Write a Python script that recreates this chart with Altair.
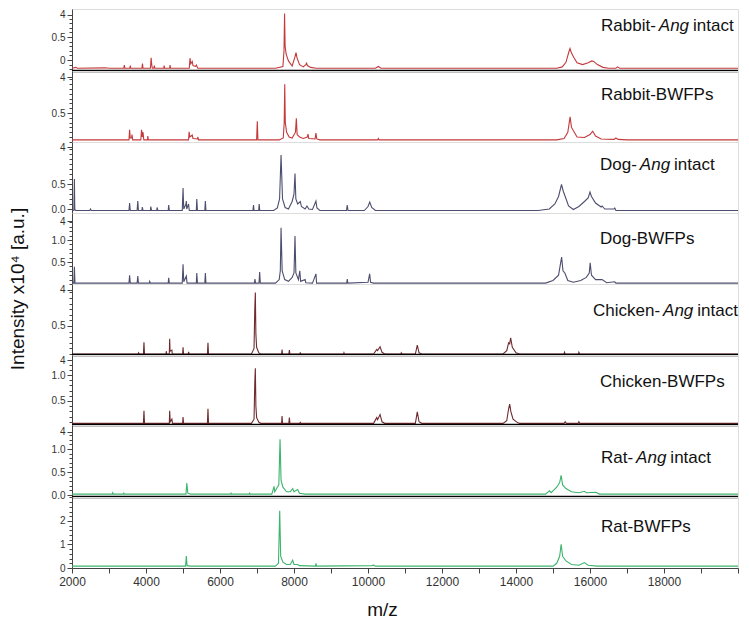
import altair as alt
import pandas as pd

# ---------------- data: (m/z, intensity x10^4) ----------------
rabbit_ang = [(2000,-0.18),(2100,-0.16),(2150,-0.18),(2900,-0.17),(3000,-0.18),(3400,-0.18),(3414,-0.11),(3430,-0.18),
    (3560,-0.18),(3576,-0.12),(3590,-0.18),(3890,-0.18),(3905,-0.08),(3920,-0.18),(4120,-0.18),(4139,0.05),(4155,-0.10),
    (4170,-0.18),(4210,-0.18),(4225,-0.12),(4240,-0.18),(4480,-0.18),(4490,-0.12),(4505,-0.18),(4640,-0.18),(4650,-0.11),
    (4665,-0.18),(5170,-0.18),(5190,0.04),(5210,-0.08),(5250,-0.03),(5270,-0.12),(5340,-0.14),(5360,-0.11),(5400,-0.18),
    (7500,-0.18),(7700,-0.14),(7730,0.20),(7745,1.01),(7760,0.30),(7790,0.12),(7850,-0.02),(7950,-0.13),(8030,0.08),
    (8055,0.16),(8080,0.05),(8150,-0.10),(8250,-0.15),(8320,-0.10),(8340,-0.07),(8360,-0.12),(8450,-0.16),(8600,-0.18),
    (10200,-0.18),(10280,-0.14),(10350,-0.18),(15100,-0.18),(15250,-0.15),(15350,-0.05),(15430,0.18),(15460,0.25),
    (15500,0.15),(15560,0.06),(15650,-0.06),(15800,-0.10),(15950,-0.06),(16050,-0.02),(16100,-0.03),(16200,-0.10),
    (16350,-0.16),(16500,-0.18),(16700,-0.18),(16745,-0.15),(16800,-0.18),(20000,-0.18)]

rabbit_bwfp = [(2000,-0.06),(3540,-0.06),(3557,0.15),(3575,-0.02),(3610,-0.02),(3622,0.05),(3640,-0.06),(3860,-0.06),
    (3880,0.15),(3900,0.0),(3920,0.10),(3940,-0.06),(4040,-0.06),(4050,0.02),(4060,-0.06),(5150,-0.06),(5166,0.11),
    (5185,0.0),(5250,0.04),(5270,-0.03),(5390,-0.04),(5400,0.0),(5420,-0.06),(6990,-0.06),(7008,0.33),(7025,-0.06),
    (7600,-0.06),(7710,-0.02),(7735,0.30),(7750,1.10),(7765,0.30),(7800,0.10),(7870,0.0),(7950,-0.02),(8040,0.10),
    (8063,0.39),(8085,0.05),(8150,0.0),(8250,-0.03),(8360,0.0),(8377,0.06),(8400,-0.03),(8570,-0.04),(8593,0.08),
    (8615,-0.04),(8700,-0.06),(10260,-0.06),(10281,-0.03),(10300,-0.06),(15100,-0.06),(15300,-0.03),(15400,0.10),
    (15462,0.42),(15500,0.20),(15560,0.12),(15650,0.0),(15850,-0.01),(16000,0.05),(16072,0.12),(16150,0.02),
    (16300,-0.04),(16650,-0.05),(16700,-0.02),(16760,-0.05),(17000,-0.06),(20000,-0.06)]

dog_ang = [(2000,-0.03),(2050,-0.03),(2065,0.60),(2075,0.0),(2100,-0.03),(2480,-0.03),(2500,0.0),(2520,-0.03),(3540,-0.03),
    (3557,0.12),(3575,-0.03),(3760,-0.03),(3778,0.16),(3795,-0.03),(3890,-0.03),(3900,0.04),(3920,-0.03),(4120,-0.03),
    (4130,0.05),(4150,-0.03),(4290,-0.03),(4300,0.03),(4320,-0.03),(4600,-0.03),(4613,0.08),(4630,-0.03),(4980,-0.03),
    (5001,0.42),(5020,0.0),(5080,0.10),(5090,0.16),(5100,0.0),(5150,0.10),(5170,-0.03),(5360,-0.03),(5373,0.20),
    (5390,-0.03),(5590,-0.03),(5604,0.16),(5620,-0.03),(6890,-0.03),(6906,0.08),(6920,-0.03),(7045,-0.03),(7059,0.10),
    (7075,-0.03),(7450,-0.03),(7550,0.02),(7610,0.20),(7650,1.08),(7690,0.20),(7760,0.03),(7850,0.0),(7950,0.15),
    (8000,0.30),(8027,0.71),(8050,0.20),(8100,0.10),(8171,0.15),(8200,0.05),(8300,0.0),(8350,0.06),(8400,0.0),
    (8500,-0.01),(8593,0.16),(8620,0.02),(8700,-0.03),(9420,-0.03),(9438,0.08),(9460,-0.03),(9900,-0.03),(10000,0.05),
    (10047,0.14),(10100,0.03),(10200,-0.03),(14600,-0.03),(14900,0.0),(15050,0.10),(15150,0.25),(15230,0.49),
    (15280,0.35),(15354,0.20),(15420,0.06),(15550,-0.01),(15700,0.05),(15850,0.15),(15950,0.22),(16000,0.34),
    (16040,0.25),(16150,0.12),(16300,0.04),(16327,0.06),(16400,0.0),(16650,0.0),(16670,0.02),(16700,-0.03),(20000,-0.03)]

dog_bwfp = [(2000,0.02),(2050,0.02),(2065,0.39),(2080,0.02),(3540,0.02),(3557,0.20),(3575,0.02),(3760,0.02),
    (3778,0.18),(3795,0.02),(4090,0.02),(4100,0.06),(4120,0.02),(4600,0.02),(4613,0.14),(4630,0.02),(4980,0.02),
    (5001,0.45),(5020,0.05),(5090,0.18),(5110,0.02),(5360,0.02),(5373,0.25),(5390,0.02),(5590,0.02),(5604,0.25),
    (5620,0.02),(6930,0.02),(6945,0.11),(6960,0.02),(7055,0.02),(7072,0.27),(7090,0.02),(7500,0.02),(7600,0.10),
    (7630,0.30),(7650,1.28),(7680,0.30),(7750,0.10),(7850,0.06),(7950,0.15),(8000,0.25),(8027,1.09),(8050,0.25),
    (8120,0.10),(8157,0.30),(8180,0.06),(8300,0.10),(8320,0.03),(8500,0.02),(8593,0.23),(8610,0.02),(9425,0.02),
    (9440,0.11),(9455,0.02),(10000,0.04),(10045,0.23),(10070,0.04),(10150,0.02),(14800,0.02),(15000,0.08),
    (15150,0.20),(15233,0.61),(15270,0.30),(15320,0.25),(15400,0.08),(15550,0.04),(15750,0.08),(15900,0.15),
    (15980,0.25),(16005,0.48),(16040,0.20),(16150,0.10),(16327,0.10),(16450,0.03),(16670,0.05),(16700,0.02),(20000,0.02)]

chicken_ang = [(2000,0.0),(3790,0.0),(3800,0.02),(3820,0.0),(3930,0.0),(3945,0.21),(3960,0.0),(4540,0.0),(4549,0.05),
    (4560,0.0),(4630,0.0),(4640,0.27),(4650,0.05),(4700,0.07),(4710,0.0),(4990,0.0),(5001,0.12),(5015,0.0),(5140,0.0),
    (5152,0.04),(5165,0.0),(5660,0.0),(5675,0.20),(5690,0.0),(6850,0.0),(6920,0.10),(6940,0.80),(6955,1.10),
    (6970,0.35),(6990,0.12),(7050,0.02),(7100,0.0),(7665,0.0),(7677,0.08),(7690,0.0),(7860,0.0),(7875,0.07),
    (7890,0.0),(8160,0.0),(8171,0.03),(8180,0.0),(9340,0.0),(9350,0.02),(9360,0.0),(10150,0.0),(10236,0.08),
    (10260,0.06),(10326,0.13),(10380,0.03),(10450,0.0),(10890,0.0),(10900,0.02),(10920,0.0),(11280,0.0),(11332,0.16),
    (11380,0.02),(11450,0.0),(13650,0.0),(13750,0.06),(13800,0.20),(13830,0.18),(13856,0.29),(13900,0.12),
    (14000,0.02),(14100,0.0),(15300,0.0),(15310,0.03),(15330,0.0),(15690,0.0),(15700,0.03),(15720,0.0),(20000,0.0)]

chicken_bwfp = [(2000,0.07),(3930,0.07),(3945,0.31),(3960,0.07),(4630,0.07),(4640,0.31),(4655,0.10),(4700,0.15),
    (4715,0.07),(4990,0.07),(5001,0.19),(5015,0.07),(5660,0.07),(5675,0.35),(5690,0.07),(6850,0.07),(6920,0.15),
    (6940,0.85),(6955,1.13),(6970,0.40),(6990,0.18),(7050,0.09),(7100,0.07),(7665,0.07),(7677,0.21),(7690,0.07),
    (7860,0.07),(7875,0.18),(7890,0.07),(8160,0.07),(8171,0.10),(8180,0.07),(10150,0.07),(10236,0.18),(10260,0.14),
    (10326,0.24),(10380,0.10),(10450,0.07),(11280,0.07),(11332,0.29),(11380,0.10),(11450,0.07),(13650,0.07),
    (13750,0.12),(13800,0.35),(13830,0.44),(13860,0.30),(13920,0.15),(14050,0.08),(14100,0.07),(15300,0.07),
    (15330,0.10),(15360,0.07),(15680,0.07),(15700,0.10),(15720,0.07),(20000,0.07)]

rat_ang = [(2000,0.02),(3090,0.02),(3100,0.05),(3120,0.02),(3390,0.02),(3400,0.04),(3420,0.02),(5080,0.02),(5103,0.26),
    (5130,0.04),(5200,0.02),(6290,0.02),(6300,0.04),(6320,0.02),(6790,0.02),(6800,0.04),(6820,0.02),(7400,0.02),
    (7461,0.19),(7480,0.07),(7550,0.17),(7590,0.22),(7623,1.21),(7650,0.32),(7700,0.17),(7800,0.07),(7900,0.07),
    (7964,0.14),(8000,0.07),(8099,0.12),(8150,0.04),(8300,0.02),(14800,0.02),(14906,0.09),(14950,0.05),(15100,0.17),
    (15180,0.27),(15220,0.43),(15260,0.22),(15350,0.14),(15500,0.07),(15700,0.05),(15849,0.08),(15900,0.05),
    (16162,0.06),(16250,0.02),(20000,0.02)]

rat_bwfp = [(2000,0.08),(5070,0.08),(5090,0.51),(5110,0.10),(5200,0.08),(7500,0.08),(7580,0.20),(7614,2.43),
    (7640,0.50),(7700,0.25),(7800,0.15),(7900,0.15),(7964,0.33),(8000,0.15),(8099,0.15),(8150,0.10),(8580,0.08),
    (8593,0.20),(8610,0.08),(10100,0.10),(10150,0.12),(10200,0.08),(15000,0.08),(15100,0.20),(15180,0.50),
    (15220,1.01),(15260,0.50),(15350,0.30),(15500,0.15),(15700,0.12),(15849,0.23),(15950,0.12),(16200,0.08),
    (20000,0.08)]

x_tick_values = list(range(2000, 20001, 1000))

# ---------------- styling ----------------
RABBIT, DOG, CHICKEN, RAT = "#c4393b", "#4d4e6e", "#6f2a2f", "#3cb46c"
W = 666
FONT = "Liberation Sans"
LFS = 17  # panel label font size

# Arial advance widths (per 1000 em) used to lay out mixed-style panel labels
AW = {" ": 278, "-": 333, "A": 667, "B": 667, "C": 722, "D": 722, "F": 611, "P": 667, "R": 722, "W": 944,
      "a": 556, "b": 556, "c": 500, "e": 556, "g": 556, "h": 556, "i": 222, "k": 500, "n": 556, "o": 556,
      "s": 500, "t": 278}


def tw(s):
    return sum(AW.get(c, 556) for c in s) * LFS / 1000.0


def segs_for(prefix, x0, italic_word=None):
    if italic_word is None:
        return [(prefix, x0, False)]
    x1 = x0 + tw(prefix) + 3
    x2 = x1 + tw(italic_word) + 4
    return [(prefix, x0, False), (italic_word, x1, True), ("intact", x2, False)]


panels = [
    dict(data=rabbit_ang, color=RABBIT, h=62, dom=[-0.239, 1.109], step=0.1, lo=-0.2, hi=0.9,
         labels={0.0: "0", 0.5: "0.5", 0.98: "4"},
         segs=segs_for("Rabbit-", 529, "Ang"), ty=17, thick=True),
    dict(data=rabbit_bwfp, color=RABBIT, h=71, dom=[-0.104, 1.375], step=0.1, lo=-0.1, hi=1.2,
         labels={0.5: "0.5", 1.25: "4"},
         segs=segs_for("Rabbit-BWFPs", 529), ty=24, thick=False),
    dict(data=dog_ang, color=DOG, h=71, dom=[-0.08, 1.34], step=0.1, lo=0.0, hi=1.2,
         labels={0.0: "0.0", 0.5: "0.5", 1.24: "4"},
         segs=segs_for("Dog-", 528, "Ang"), ty=23, thick=False),
    dict(data=dog_bwfp, color=DOG, h=71, dom=[0.0, 1.614], step=0.1, lo=0.0, hi=1.4,
         labels={0.5: "0.5", 1.0: "1.0", 1.43: "4"},
         segs=segs_for("Dog-BWFPs", 528), ty=26, thick=False),
    dict(data=chicken_ang, color=CHICKEN, h=71, dom=[-0.018, 1.25], step=0.1, lo=0.0, hi=1.1,
         labels={0.5: "0.5", 1.143: "4"},
         segs=segs_for("Chicken-", 521, "Ang"), ty=27, thick=True),
    dict(data=chicken_bwfp, color=CHICKEN, h=70, dom=[0.038, 1.385], step=0.1, lo=0.1, hi=1.2,
         labels={0.5: "0.5", 1.0: "1.0", 1.288: "4"},
         segs=segs_for("Chicken-BWFPs", 528), ty=27, thick=True),
    dict(data=rat_ang, color=RAT, h=72, dom=[-0.043, 1.522], step=0.1, lo=0.0, hi=1.3,
         labels={0.0: "0.0", 0.5: "0.5", 1.0: "1.0", 1.37: "4"},
         segs=segs_for("Rat-", 529, "Ang"), ty=33, thick=True),
    dict(data=rat_bwfp, color=RAT, h=71, dom=[0.0, 3.02], step=0.2, lo=0.0, hi=3.0,
         labels={0.0: "0", 1.0: "1", 2.0: "2"},
         segs=segs_for("Rat-BWFPs", 529), ty=30, thick=False),
]

one = pd.DataFrame({"k": [0]})
x_scale = alt.Scale(domain=[2000, 20000], nice=False, zero=False)

charts = []
for i, p in enumerate(panels):
    df = pd.DataFrame(p["data"], columns=["mz", "intensity"])
    n = int(round((p["hi"] - p["lo"]) / p["step"]))
    ticks = [round(p["lo"] + p["step"] * k, 2) for k in range(n + 1)]
    ticks = sorted(set(ticks + list(p["labels"].keys())))
    expr = ""
    for v, t in p["labels"].items():
        expr += f"datum.value == {v} ? '{t}' : "
    expr += "''"
    major = "[" + ",".join(str(v) for v in p["labels"].keys()) + "]"
    yaxis = alt.Axis(values=ticks, labelExpr=expr, title=None, grid=False,
                     tickSize={"condition": {"test": f"indexof({major}, datum.value) >= 0", "value": 5}, "value": 3},
                     domainColor="#444", tickColor="#444", labelColor="#333", labelFontSize=10,
                     labelFont=FONT, labelPadding=2, labelOverlap=False, labelFlush=False, labelBound=False)
    last = i == len(panels) - 1
    if last:
        xaxis = alt.Axis(values=x_tick_values, format="d",
                         labelExpr="datum.value % 2000 == 0 && datum.value <= 18000 ? datum.label : ''",
                         title="m/z", grid=False, tickSize=5, domainColor="#444", tickColor="#444",
                         labelColor="#333", labelFontSize=12, labelFont=FONT, labelOverlap=False,
                         labelFlush=False, labelPadding=3, titleFontSize=19, titleFont=FONT,
                         titleFontWeight="normal", titleColor="#111", titleX=310, titleY=47,
                         titleBaseline="alphabetic")
    else:
        xaxis = None
    line = alt.Chart(df).mark_line(color=p["color"], strokeWidth=1.1, clip=True).encode(
        x=alt.X("mz:Q", scale=x_scale, axis=xaxis),
        y=alt.Y("intensity:Q", scale=alt.Scale(domain=p["dom"], nice=False, zero=False), axis=yaxis),
    )
    layers = [line]
    for text, xpos, italic in p["segs"]:
        layers.append(alt.Chart(one).mark_text(
            text=text, align="left", baseline="middle", fontSize=LFS, font=FONT,
            fontStyle="italic" if italic else "normal", color="#111",
        ).encode(x=alt.value(xpos), y=alt.value(p["ty"])))
    if p["thick"]:
        layers.append(alt.Chart(one).mark_rule(color="#000", strokeWidth=2.5).encode(
            x=alt.value(0), x2=alt.value(W), y=alt.value(p["h"])))
    if i == 3:
        layers.append(alt.Chart(one).mark_text(
            text="Intensity x10⁴ [a.u.]", angle=270, align="center", baseline="middle",
            fontSize=19, font=FONT, color="#111",
        ).encode(x=alt.value(-54), y=alt.value(76)))
    charts.append(alt.layer(*layers).properties(width=W, height=p["h"]))

chart = alt.vconcat(*charts, spacing=0, bounds="flush").properties(padding=0).configure_view(
    stroke="#555", strokeWidth=1).configure(font=FONT)

chart.save("out.html", embed_options={"renderer": "svg", "actions": False})
